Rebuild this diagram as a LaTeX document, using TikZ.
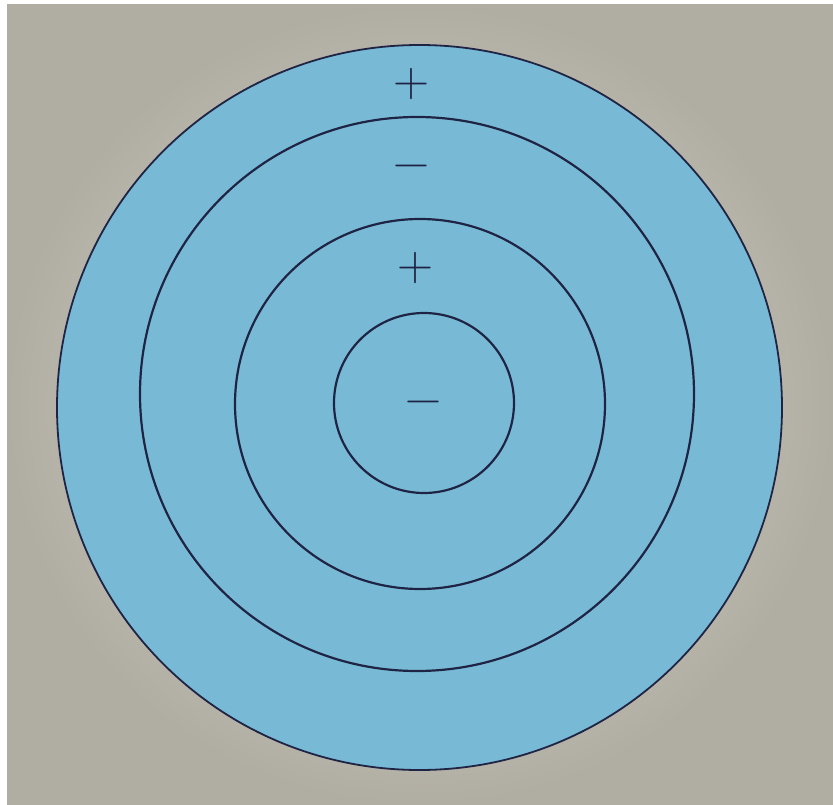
\documentclass[tikz,border=0pt]{standalone}
\usepackage{fontspec}
\setmainfont{Latin Modern Roman}
\begin{document}
\begin{tikzpicture}[x=1pt,y=-1pt,
  ink/.style={draw=inkc,line width=2.2pt},
  sign/.style={text=inkc,inner sep=0pt,font=\fontsize{50}{50}\selectfont}]
\definecolor{inkc}{RGB}{32,36,68}
\definecolor{paper}{RGB}{120,186,214}
\definecolor{bgl}{RGB}{224,220,209}
\definecolor{bgd}{RGB}{176,173,163}
\useasboundingbox (0,0) rectangle (833,805);
\fill[white] (0,0) rectangle (833,805);
\shade[inner color=bgl,outer color=bgd] (7,5) rectangle (833,805);
\node[circle,minimum size=725pt,fill=paper,ink,line width=1.8pt,inner sep=0pt] (disc) at (419.5,407.5) {};
\node[circle,minimum size=554pt,ink,inner sep=0pt] (ring2) at (417,394) {};
\node[circle,minimum size=370pt,ink,inner sep=0pt] (ring3) at (420,404) {};
\node[circle,minimum size=180pt,ink,inner sep=0pt] (ring4) at (424,403) {};
\node[sign] (p1) at (411,84) {+};
\node[sign] (m1) at (411,172) {−};
\node[sign] (p2) at (415,268) {+};
\node[sign] (m2) at (423,408) {−};
\end{tikzpicture}
\end{document}
